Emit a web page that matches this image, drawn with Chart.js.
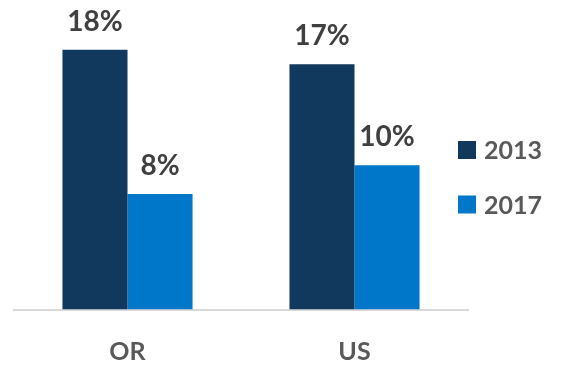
<!DOCTYPE html>
<html>
<head>
<meta charset="utf-8">
<script src="https://cdn.jsdelivr.net/npm/chart.js@4"></script>
<style>
  html, body { margin: 0; padding: 0; background: #fff; }
  #wrap { width: 563px; height: 366px; }
</style>
</head>
<body>
<div id="wrap"><canvas id="chart" width="563" height="366"></canvas></div>
<script>
// Data
const categories = ['OR', 'US'];
const seriesNames = ['2013', '2017'];
const values2013 = [18, 17];
const values2017 = [8, 10];
const seriesColors = ['#11395e', '#0077c8'];

const FONT = "Lato, 'Open Sans', sans-serif";
const TEXT = '#595959';

// Value labels above each bar
const barLabels = {
    id: 'barLabels',
    afterDatasetsDraw(chart) {
        const ctx = chart.ctx;
        ctx.save();
        ctx.font = 'bold 28px ' + FONT;
        ctx.fillStyle = '#404040';
        ctx.textAlign = 'center';
        ctx.textBaseline = 'alphabetic';
        chart.data.datasets.forEach((ds, i) => {
            chart.getDatasetMeta(i).data.forEach((bar, j) => {
                ctx.fillText(ds.data[j] + '%', bar.x, bar.y - 19);
            });
        });
        ctx.restore();
    }
};

// Legend on the right, drawn next to the plot
const sideLegend = {
    id: 'sideLegend',
    afterDraw(chart) {
        const ctx = chart.ctx;
        const x = chart.chartArea.right - 10;
        const rows = [150, 204.5];
        ctx.save();
        ctx.font = 'bold 25px ' + FONT;
        ctx.textBaseline = 'middle';
        chart.data.datasets.forEach((ds, i) => {
            ctx.fillStyle = ds.backgroundColor;
            ctx.fillRect(x, rows[i] - 9, 18, 18);
            ctx.fillStyle = TEXT;
            ctx.fillText(ds.label, x + 26, rows[i] + 1);
        });
        ctx.restore();
    }
};

new Chart(document.getElementById('chart'), {
    type: 'bar',
    data: {
        labels: categories,
        datasets: [
            { label: seriesNames[0], data: values2013, backgroundColor: seriesColors[0] },
            { label: seriesNames[1], data: values2017, backgroundColor: seriesColors[1] }
        ]
    },
    options: {
        responsive: false,
        animation: false,
        layout: { padding: { left: 14, right: 95, top: 0, bottom: 0 } },
        datasets: {
            bar: { categoryPercentage: 0.573, barPercentage: 1.0 }
        },
        plugins: {
            legend: { display: false },
            tooltip: { enabled: false }
        },
        scales: {
            x: {
                grid: { display: false, tickLength: 8 },
                border: { display: true, color: '#d9d9d9', width: 2 },
                ticks: {
                    color: TEXT,
                    font: { family: FONT, size: 25, weight: 'bold' },
                    padding: 19
                },
                afterFit(scale) { scale.height = 56.5; }
            },
            y: {
                display: false,
                min: 0,
                max: 21.45
            }
        }
    },
    plugins: [barLabels, sideLegend]
});
</script>
</body>
</html>
